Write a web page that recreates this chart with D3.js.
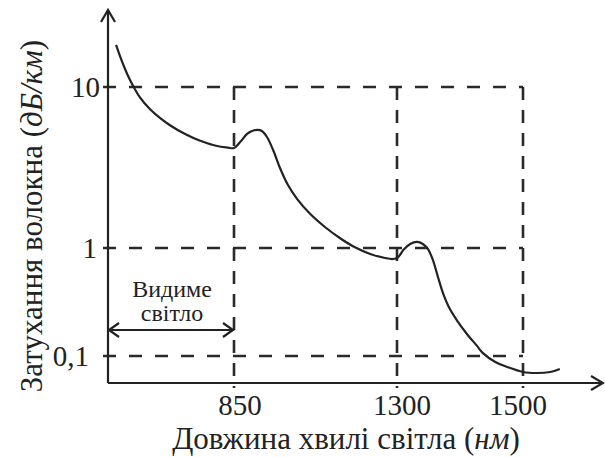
<!DOCTYPE html>
<html>
<head>
<meta charset="utf-8">
<script src="https://cdn.jsdelivr.net/npm/d3@7/dist/d3.min.js"></script>
<style>
  html, body { margin: 0; padding: 0; background: #fff; }
  svg { display: block; }
  text { font-family: "Liberation Serif", "Times New Roman", serif; fill: #222; }
</style>
</head>
<body>
<svg id="chart" width="605" height="457"></svg>
<script>
// ---- data ----
const wavelengths = [616, 624, 634, 642, 650, 663, 683, 703, 723, 753, 783, 812, 838, 850, 867, 886, 900, 914, 927, 941, 958, 977, 999, 1024, 1060, 1101, 1143, 1184, 1226, 1267, 1289, 1302, 1310, 1321, 1332, 1341, 1349, 1357, 1365, 1373, 1384, 1397, 1411, 1427, 1436, 1456, 1475, 1500, 1535, 1568, 1592];
const attenuation = [18.24, 15.49, 12.88, 11.32, 10.13, 8.66, 7.31, 6.43, 5.79, 5.10, 4.63, 4.33, 4.20, 4.18, 4.55, 5.11, 5.33, 5.41, 5.33, 4.89, 4.06, 3.14, 2.46, 2.02, 1.63, 1.35, 1.15, 1.01, 0.880, 0.808, 0.791, 0.825, 0.958, 1.059, 1.09, 1.059, 0.979, 0.774, 0.539, 0.383, 0.272, 0.206, 0.160, 0.124, 0.107, 0.088, 0.0791, 0.0711, 0.0696, 0.0711, 0.0758];
const xTicks = [850, 1300, 1500];
const xTickLabels = ["850", "1300", "1500"];
const yTicks = [10, 1, 0.1];
const yTickLabels = ["10", "1", "0,1"];
const visibleRange = [600, 850];
const visibleLabel = ["Видиме", "світло"];

// ---- scales (schematic, piecewise) ----
const x = d3.scaleLinear().domain([600, 850, 1300, 1500, 1700]).range([108, 234, 397, 523, 603]);
const y = d3.scaleLog().domain([0.0562, 0.1, 1, 10, 30]).range([383, 356, 248, 87, 10]);

const svg = d3.select("#chart");
const ink = "#222";
const x0 = x.range()[0], y0 = y.range()[0];
const xEnd = x.range()[4], yTop = y.range()[4];

// dashed guide lines
const gridG = svg.append("g").attr("stroke", "#2a2a2a").attr("stroke-width", 2.6).attr("fill", "none");
yTicks.forEach(v => {
  gridG.append("line").attr("x1", x0 - 5).attr("x2", x(1500)).attr("y1", y(v)).attr("y2", y(v))
    .attr("stroke-dasharray", "13,13");
});
xTicks.forEach(v => {
  gridG.append("line").attr("x1", x(v)).attr("x2", x(v)).attr("y1", y(10)).attr("y2", y0 + 5)
    .attr("stroke-dasharray", "13,10");
});

// axes
const axG = svg.append("g").attr("stroke", ink).attr("stroke-width", 2.2).attr("fill", "none");
axG.append("line").attr("x1", x0).attr("x2", x0).attr("y1", y0).attr("y2", yTop);
axG.append("line").attr("x1", x0).attr("x2", xEnd).attr("y1", y0).attr("y2", y0);
axG.append("path").attr("d", `M${x0 - 7},${yTop + 12} L${x0},${yTop} L${x0 + 7},${yTop + 12}`);
axG.append("path").attr("d", `M${xEnd - 12},${y0 - 7} L${xEnd},${y0} L${xEnd - 12},${y0 + 7}`);

// curve
const line = d3.line().x((d, i) => x(wavelengths[i])).y(d => y(d)).curve(d3.curveCatmullRom.alpha(0.5));
svg.append("path").datum(attenuation).attr("d", line)
  .attr("fill", "none").attr("stroke", ink).attr("stroke-width", 2.2);

// tick labels
const xLabelDx = [6, 5, -5];
svg.append("g").selectAll("text").data(xTicks).join("text")
  .attr("x", (d, i) => x(d) + xLabelDx[i]).attr("y", 415).attr("text-anchor", "middle")
  .attr("font-size", 29).text((d, i) => xTickLabels[i]);
const yLabelEnd = [100, 97, 89];
svg.append("g").selectAll("text").data(yTicks).join("text")
  .attr("x", (d, i) => yLabelEnd[i]).attr("y", d => y(d) + 10).attr("text-anchor", "end")
  .attr("font-size", 29).text((d, i) => yTickLabels[i]);

// axis titles
const xt = svg.append("text").attr("x", 346).attr("y", 449).attr("text-anchor", "middle").attr("font-size", 31);
xt.append("tspan").text("Довжина хвилі світла (");
xt.append("tspan").attr("font-style", "italic").text("нм");
xt.append("tspan").text(")");

const yt = svg.append("text").attr("transform", "translate(42,216) rotate(-90)").attr("text-anchor", "middle").attr("font-size", 31);
yt.append("tspan").text("Затухання волокна (");
yt.append("tspan").attr("font-style", "italic").text("дБ/км");
yt.append("tspan").text(")");

// visible-light annotation
const vm = (x(visibleRange[0]) + x(visibleRange[1])) / 2;
svg.append("text").attr("x", vm + 1).attr("y", 297).attr("text-anchor", "middle").attr("font-size", 24).text(visibleLabel[0]);
svg.append("text").attr("x", vm + 1).attr("y", 321).attr("text-anchor", "middle").attr("font-size", 24).text(visibleLabel[1]);
const ay = 330;
const arG = svg.append("g").attr("stroke", ink).attr("stroke-width", 2.2).attr("fill", "none");
arG.append("line").attr("x1", x(visibleRange[0])).attr("x2", x(visibleRange[1])).attr("y1", ay).attr("y2", ay);
arG.append("path").attr("d", `M${x(visibleRange[0]) + 11},${ay - 7} L${x(visibleRange[0]) + 1},${ay} L${x(visibleRange[0]) + 11},${ay + 7}`);
arG.append("path").attr("d", `M${x(visibleRange[1]) - 11},${ay - 7} L${x(visibleRange[1]) - 1},${ay} L${x(visibleRange[1]) - 11},${ay + 7}`);
</script>
</body>
</html>
